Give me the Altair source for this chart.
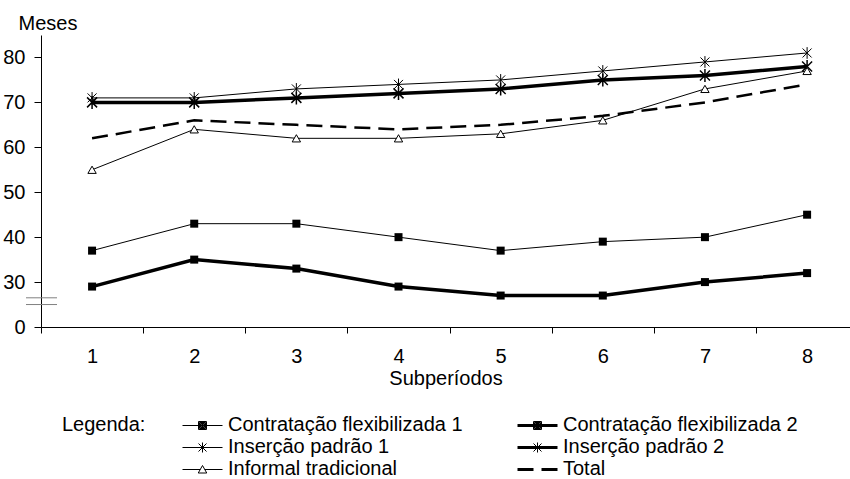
import altair as alt
import pandas as pd

periods = [1, 2, 3, 4, 5, 6, 7, 8]
series_names = [
    "Contratação flexibilizada 1",
    "Contratação flexibilizada 2",
    "Inserção padrão 1",
    "Inserção padrão 2",
    "Informal tradicional",
    "Total",
]
cf1 = [37, 43, 43, 40, 37, 39, 40, 45]
cf2 = [29, 35, 33, 29, 27, 27, 30, 32]
ip1 = [71, 71, 73, 74, 75, 77, 79, 81]
ip2 = [70, 70, 71, 72, 73, 75, 76, 78]
informal = [55, 64, 62, 62, 63, 66, 73, 77]
total = [62, 66, 65, 64, 65, 67, 70, 74]

y_ticks = [20, 30, 40, 50, 60, 70, 80]   # 20 is shown as "0" (broken axis)
break_marks = [25, 26.5]

values = [cf1, cf2, ip1, ip2, informal, total]
rows = []
for name, vals in zip(series_names, values):
    for p, v in zip(periods, vals):
        rows.append({"periodo": p, "meses": v, "serie": name})
df = pd.DataFrame(rows)

FONT = "Liberation Sans"

x_enc = alt.X(
    "periodo:Q",
    scale=alt.Scale(domain=[0.5, 8.42], nice=False, zero=False),
    axis=alt.Axis(
        values=[0.5, 1, 1.5, 2, 2.5, 3, 3.5, 4, 4.5, 5, 5.5, 6, 6.5, 7, 7.5, 8],
        labelExpr="datum.value % 1 == 0 ? datum.value : ''",
        tickOpacity={"condition": {"test": "datum.value % 1 != 0", "value": 1}, "value": 0},
        title="Subperíodos",
        grid=False,
        tickSize=6,
        labelPadding=13,
        titlePadding=2,
        labelFlush=False,
        labelOverlap=False,
    ),
)
y_enc = alt.Y(
    "meses:Q",
    scale=alt.Scale(domain=[20, 85], nice=False, zero=False),
    axis=alt.Axis(
        values=y_ticks,
        labelExpr="datum.value == 20 ? '0' : datum.label",
        title="Meses",
        titleAngle=0,
        titleAlign="left",
        titleBaseline="alphabetic",
        titleX=-23,
        titleY=-6,
        grid=False,
        tickSize=7,
        labelPadding=9,
    ),
)

base = alt.Chart(df).encode(x=x_enc, y=y_enc)

thin = base.transform_filter(
    alt.FieldOneOfPredicate(field="serie", oneOf=[series_names[0], series_names[2], series_names[4]])
).mark_line(color="black", strokeWidth=1).encode(detail="serie:N")

thick = base.transform_filter(
    alt.FieldOneOfPredicate(field="serie", oneOf=[series_names[1], series_names[3]])
).mark_line(color="black", strokeWidth=3.5).encode(detail="serie:N")

dashed = base.transform_filter(
    alt.datum.serie == series_names[5]
).mark_line(color="black", strokeWidth=2.5, strokeDash=[16, 8])

squares = base.transform_filter(
    alt.FieldOneOfPredicate(field="serie", oneOf=[series_names[0], series_names[1]])
).mark_point(shape="square", filled=True, color="black", size=64, opacity=1)

ASTER = "M-1,-1L1,1M-1,1L1,-1M0,-1.3L0,1.3"
aster1 = base.transform_filter(alt.datum.serie == series_names[2]).mark_point(
    shape=ASTER, filled=False, color="black", size=81, strokeWidth=1, opacity=1)
aster2 = base.transform_filter(alt.datum.serie == series_names[3]).mark_point(
    shape=ASTER, filled=False, color="black", size=100, strokeWidth=1.5, opacity=1)

triangles = base.transform_filter(alt.datum.serie == series_names[4]).mark_point(
    shape="triangle-up", filled=True, fill="white", stroke="black", strokeWidth=1, size=70, opacity=1)


# legend-only layer (no data drawn): symbols are line + marker paths, stroke only.
# A 0.1-unit (0.5 px) shift keeps the 1 px strokes crisp.
D = 0.1


def p(x, y):
    return f"{x + D:.2f},{y + D:.2f}"


def hline(x0, x1, y):
    return f"M{p(x0, y)}L{p(x1, y)}"


def square(h):
    return f"M{p(-h, -h)}L{p(h, -h)}L{p(h, h)}L{p(-h, h)}Z"


SQ = "".join(square(h) for h in (0.8, 0.6, 0.4, 0.2))
AST = f"M{p(-0.8, -0.8)}L{p(0.8, 0.8)}M{p(-0.8, 0.8)}L{p(0.8, -0.8)}M{p(0, -1)}L{p(0, 1)}"
THIN = hline(-4, 4, 0)
THICK = hline(-4, 4, -0.2) + hline(-4, 4, 0) + hline(-4, 4, 0.2)
TRI = hline(-4, -0.45, 0) + hline(0.45, 4, 0) + f"M{p(0, -0.8)}L{p(0.85, 0.7)}L{p(-0.85, 0.7)}Z"
DASH = "".join(hline(-4, -0.8, y) + hline(0.8, 4, y) for y in (-0.2, 0, 0.2))
leg_shapes = [THIN + SQ, THICK + SQ, THIN + AST, THICK + AST, TRI, DASH]

legend = alt.Legend(
    title="Legenda:",
    orient="none",
    legendX=21,
    legendY=380,
    columns=2,
    direction="horizontal",
    titleOrient="left",
    titleAnchor="start",
    titleBaseline="top",
    titleFont=FONT,
    titleFontSize=20,
    titleFontWeight="normal",
    titleColor="black",
    titlePadding=46,
    labelFont=FONT,
    labelFontSize=20,
    labelColor="black",
    labelOffset=16,
    labelLimit=400,
    symbolSize=100,
    symbolStrokeColor="black",
    symbolStrokeWidth=1,
    symbolOpacity=1,
    columnPadding=52,
    rowPadding=2,
)

legend_layer = alt.Chart(df).transform_filter("false").mark_point(
    filled=False, stroke="black", strokeWidth=1, opacity=1
).encode(
    x="periodo:Q",
    y="meses:Q",
    shape=alt.Shape("serie:N", scale=alt.Scale(domain=series_names, range=leg_shapes), legend=legend),
)

brk = alt.Chart(pd.DataFrame({"b": break_marks})).mark_rule(color="#808080", strokeWidth=1).encode(
    y="b:Q", x=alt.value(-15), x2=alt.value(16)
)

chart = alt.layer(thin, thick, dashed, squares, aster1, aster2, triangles, legend_layer, brk).properties(
    width=809,
    height=292,
    background="white",
    autosize=alt.AutoSizeParams(type="none"),
    padding={"left": 41, "top": 35, "right": 0, "bottom": 152},
).configure_view(stroke=None).configure_axis(
    domainColor="black",
    tickColor="black",
    labelColor="black",
    titleColor="black",
    labelFont=FONT,
    titleFont=FONT,
    labelFontSize=20,
    titleFontSize=20,
    titleFontWeight="normal",
    domainWidth=1,
    tickWidth=1,
)

chart.save("out.html", embed_options={"renderer": "svg", "actions": False})
